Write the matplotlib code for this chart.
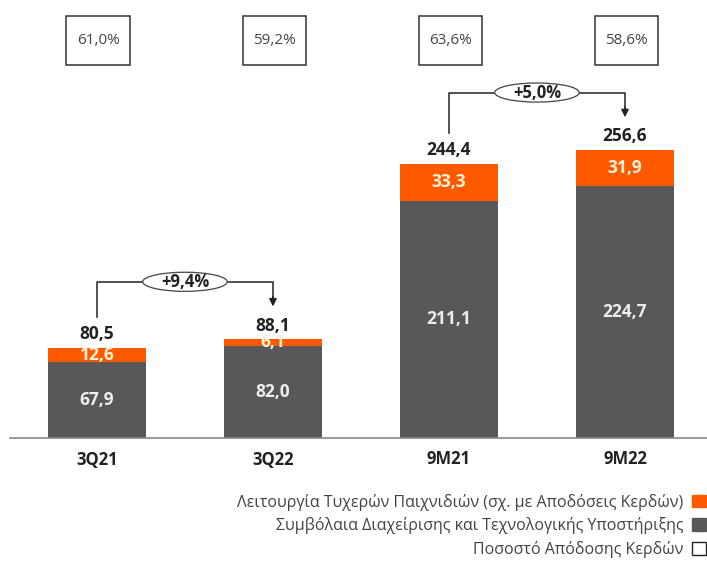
import matplotlib
matplotlib.use("Agg")
import matplotlib.pyplot as plt
from matplotlib.patches import Rectangle, Ellipse, Patch

categories = ["3Q21", "3Q22", "9M21", "9M22"]
contracts = [67.9, 82.0, 211.1, 224.7]
lottery = [12.6, 6.1, 33.3, 31.9]
totals = [80.5, 88.1, 244.4, 256.6]
payout = ["61,0%", "59,2%", "63,6%", "58,6%"]
growth = [(0, 1, "+9,4%"), (2, 3, "+5,0%")]

legend_labels = [
    "Λειτουργία Τυχερών Παιχνιδιών (σχ. με Αποδόσεις Κερδών)",
    "Συμβόλαια Διαχείρισης και Τεχνολογικής Υποστήριξης",
    "Ποσοστό Απόδοσης Κερδών",
]

ORANGE = "#FF5A00"
GREY = "#58585A"
DARK = "#222222"

plt.rcParams["font.family"] = ["Open Sans", "DejaVu Sans"]

fig = plt.figure(figsize=(7.07, 5.68), dpi=100)
ax = fig.add_axes([10 / 707, 130 / 568, 697 / 707, 438 / 568])
x = range(len(categories))
w = 0.557

ax.bar(x, contracts, w, color=GREY, zorder=2)
ax.bar(x, lottery, w, bottom=contracts, color=ORANGE, zorder=2)


def fmt(v):
    return f"{v:.1f}".replace(".", ",")


for i in x:
    ax.text(i, contracts[i] / 2, fmt(contracts[i]), ha="center", va="center",
            color="#EEEEEE", fontsize=12.5, fontweight="bold", zorder=4)
    ax.text(i, contracts[i] + lottery[i] / 2, fmt(lottery[i]), ha="center",
            va="center", color="#FFF2D8", fontsize=12.5, fontweight="bold", zorder=4)
    ax.text(i, totals[i] + 12, fmt(totals[i]), ha="center", va="center",
            color=DARK, fontsize=12.5, fontweight="bold", zorder=4)
    # payout ratio box
    bw, bh = 0.358, 43
    ax.add_patch(Rectangle((i + 0.006 - bw / 2, 354 - bh / 2), bw, bh,
                           facecolor="white", edgecolor="#333333", lw=1.1,
                           clip_on=False, zorder=3))
    ax.text(i + 0.006, 354, payout[i], ha="center", va="center",
            fontsize=11, color="#444444", zorder=4)

for a, b, lab in growth:
    y_top = max(totals[a], totals[b]) + 51
    tip = totals[b] + 29
    ax.plot([a, a, b, b], [totals[a] + 27, y_top, y_top, tip + 8],
            color=DARK, lw=1.1, zorder=1)
    ax.annotate("", xy=(b, tip), xytext=(b, tip + 9),
                arrowprops=dict(arrowstyle="-|>", color=DARK, lw=1.1,
                                mutation_scale=11, shrinkA=0, shrinkB=0))
    xm = (a + b) / 2
    ax.add_patch(Ellipse((xm, y_top), 0.48, 17, facecolor="white",
                         edgecolor="#444444", lw=0.9, zorder=4))
    ax.text(xm, y_top, lab, ha="center", va="center", fontsize=12,
            fontweight="bold", color=DARK, zorder=5)

ax.set_xlim(-0.494, 3.466)
ax.set_ylim(0, 390)
for s in ["top", "right", "left"]:
    ax.spines[s].set_visible(False)
ax.spines["bottom"].set_color("#888888")
ax.spines["bottom"].set_linewidth(1.2)
ax.set_yticks([])
ax.set_xticks(list(x))
ax.set_xticklabels(categories, fontsize=12, fontweight="bold", color=DARK)
ax.tick_params(axis="x", length=0, pad=9)

handles = [Patch(facecolor=ORANGE, edgecolor=ORANGE),
           Patch(facecolor=GREY, edgecolor=GREY),
           Patch(facecolor="white", edgecolor="#222222")]
fig.legend(handles, legend_labels, loc="lower right",
           bbox_to_anchor=(706 / 707, 10 / 568), frameon=False, markerfirst=False,
           fontsize=11.5, handlelength=0.85, handleheight=0.85, handletextpad=0.55,
           labelspacing=0.42, borderpad=0, borderaxespad=0, labelcolor="#444444")

fig.savefig("out.png", dpi=100)
